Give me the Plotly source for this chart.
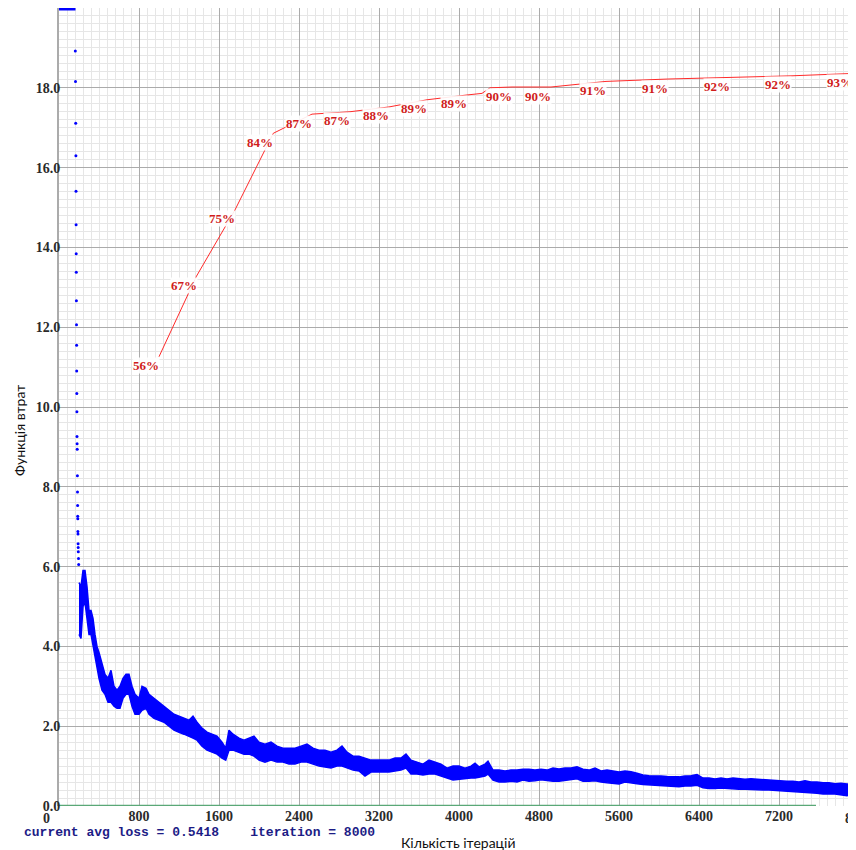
import plotly.graph_objects as go

# ---------------- data ----------------
# loss values above the chart ceiling (drawn clipped at the top)
clipped_iters = [0, 165]
clipped_loss = [20.0, 20.0]

# single early points (steep drop)
early_iters = [163, 165, 167, 169, 170, 171, 172, 173, 174, 175, 176, 177, 178, 179, 180,
               181, 182, 184, 185, 186, 187, 188, 189, 190, 191, 192, 193, 195, 197]
early_loss = [18.92, 18.16, 17.11, 16.30, 15.41, 14.57, 13.84, 13.38, 12.66, 12.06, 11.55,
              10.90, 10.34, 9.88, 9.26, 9.08, 8.94, 8.28, 7.87, 7.53, 7.26, 7.20, 6.88, 6.82,
              6.57, 6.48, 6.37, 6.2, 6.05]

# dense loss band (upper / lower envelope)
band_iters = [200, 220, 240, 260, 280, 300, 320, 340, 360, 380, 400, 430, 460, 490, 520, 550,
              580, 610, 640, 670, 700, 730, 760, 800, 830, 870, 900, 950, 1000, 1050, 1100,
              1150, 1200, 1250, 1300, 1340, 1380, 1430, 1480, 1530, 1580, 1630, 1667, 1700,
              1740, 1800, 1850, 1900, 1950, 2000, 2060, 2120, 2180, 2240, 2300, 2360, 2420,
              2480, 2540, 2600, 2660, 2720, 2780, 2830, 2880, 2940, 3000, 3060, 3120, 3180,
              3240, 3300, 3360, 3420, 3470, 3520, 3580, 3640, 3700, 3760, 3820, 3880, 3940,
              4000, 4060, 4120, 4160, 4200, 4260, 4290, 4340, 4400, 4460, 4520, 4580, 4640,
              4700, 4760, 4820, 4880, 4940, 5000, 5060, 5120, 5180, 5240, 5300, 5360, 5420,
              5480, 5540, 5600, 5660, 5720, 5780, 5840, 5900, 5960, 6020, 6080, 6140, 6200,
              6260, 6320, 6380, 6440, 6500, 6560, 6620, 6680, 6740, 6800, 6860, 6920, 6980,
              7040, 7100, 7160, 7220, 7280, 7340, 7400, 7460, 7520, 7580, 7640, 7700, 7760,
              7820, 7880, 7940, 8000]
band_upper = [5.6, 5.5, 5.9, 5.9, 5.5, 4.9, 4.9, 4.7, 4.3, 4.0, 3.85, 3.6, 3.3, 3.2, 3.4, 3.0,
              2.9, 3.0, 3.2, 3.3, 3.3, 3.0, 2.8, 2.7, 3.0, 2.95, 2.8, 2.7, 2.6, 2.5, 2.4,
              2.3, 2.25, 2.2, 2.15, 2.25, 2.1, 1.95, 1.85, 1.8, 1.75, 1.6, 1.45, 1.9,
              1.8, 1.7, 1.65, 1.7, 1.75, 1.6, 1.55, 1.6, 1.5, 1.45, 1.45, 1.45, 1.5,
              1.55, 1.45, 1.4, 1.4, 1.35, 1.4, 1.5, 1.35, 1.25, 1.25, 1.2, 1.15, 1.15,
              1.15, 1.15, 1.2, 1.2, 1.3, 1.15, 1.1, 1.05, 1.15, 1.1, 1.05, 0.95, 1.0,
              1.0, 0.95, 1.0, 1.07, 0.98, 1.05, 1.12, 0.9, 0.9, 0.88, 0.9, 0.9, 0.92,
              0.92, 0.9, 0.92, 0.9, 0.95, 0.93, 0.95, 0.95, 0.98, 0.92, 0.9, 0.95, 0.88,
              0.9, 0.88, 0.85, 0.88, 0.86, 0.82, 0.78, 0.76, 0.76, 0.75, 0.74, 0.74, 0.73,
              0.75, 0.76, 0.79, 0.7, 0.7, 0.68, 0.7, 0.68, 0.7, 0.68, 0.67, 0.68, 0.67,
              0.66, 0.64, 0.63, 0.62, 0.62, 0.62, 0.6, 0.63, 0.6, 0.6, 0.58, 0.58, 0.56,
              0.57, 0.55, 0.55, 0.54]
band_lower = [4.3, 4.2, 5.0, 5.1, 4.7, 4.3, 4.3, 4.1, 3.8, 3.5, 3.2, 2.9, 2.8, 2.6, 2.6, 2.5,
              2.45, 2.45, 2.7, 2.8, 2.8, 2.5, 2.3, 2.3, 2.4, 2.45, 2.3, 2.2, 2.15, 2.1, 2.0,
              1.9, 1.85, 1.8, 1.75, 1.7, 1.65, 1.5, 1.4, 1.35, 1.3, 1.2, 1.15, 1.4,
              1.4, 1.35, 1.3, 1.3, 1.25, 1.15, 1.1, 1.15, 1.1, 1.1, 1.05, 1.05, 1.1,
              1.1, 1.05, 1.0, 0.98, 0.95, 1.0, 1.0, 0.95, 0.9, 0.88, 0.75, 0.85, 0.85,
              0.85, 0.85, 0.88, 0.9, 0.95, 0.8, 0.8, 0.78, 0.8, 0.8, 0.75, 0.7, 0.65,
              0.66, 0.68, 0.7, 0.7, 0.72, 0.75, 0.8, 0.65, 0.6, 0.6, 0.62, 0.6, 0.65,
              0.62, 0.63, 0.66, 0.64, 0.62, 0.62, 0.64, 0.66, 0.68, 0.62, 0.62, 0.63, 0.6,
              0.58, 0.56, 0.55, 0.6, 0.58, 0.56, 0.54, 0.52, 0.52, 0.5, 0.5, 0.49, 0.48,
              0.5, 0.5, 0.52, 0.46, 0.44, 0.44, 0.45, 0.44, 0.43, 0.42, 0.42, 0.42, 0.41,
              0.4, 0.4, 0.39, 0.38, 0.37, 0.36, 0.36, 0.35, 0.33, 0.32, 0.3, 0.3, 0.3,
              0.28, 0.26, 0.27, 0.26]
assert len(band_iters) == len(band_upper) == len(band_lower)

# accuracy (mAP) curve, percent
map_iters = [1000, 1375, 1760, 2143, 2530, 2910, 3300, 3680, 4080, 4230, 4310, 4530, 4920,
             5220, 5400, 5470, 6090, 6710, 7320, 7940, 8000]
map_acc = [56.3, 66.4, 74.7, 84.3, 86.7, 87.0, 87.6, 88.5, 89.1, 89.3, 90.0, 90.1, 90.1,
           90.5, 90.7, 90.8, 91.1, 91.3, 91.5, 91.8, 91.85]
map_labels = ["56%", "67%", "75%", "84%", "87%", "87%", "88%", "89%", "89%", "", "", "90%",
              "90%", "", "", "91%", "91%", "92%", "92%", "93%", ""]

# green baseline segment
base_iters = [0, 7570]
base_vals = [0.0, 0.0]

x_ticks = [800, 1600, 2400, 3200, 4000, 4800, 5600, 6400, 7200]
x_last_tick = 8000
y_ticks = [0, 2, 4, 6, 8, 10, 12, 14, 16, 18]
x_max_visible = 7970
y_max = 20
acc_max = 100

avg_loss = 0.5418
iteration = 8000

# ---------------- figure ----------------
BLUE = "#0000ff"
RED = "#ff2a2a"
LABEL_RED = "#d01c1c"
MAJOR = "#ababab"
MINOR = "#e6e6e6"
serif_bold = dict(family="Liberation Serif", size=14, color="#2a2a2a", weight="bold")

fig = go.Figure()

fig.add_trace(go.Scatter(
    x=band_iters + band_iters[::-1], y=band_upper + band_lower[::-1],
    fill="toself", fillcolor=BLUE, mode="lines",
    line=dict(color=BLUE, width=1.5), hoverinfo="skip", showlegend=False))

fig.add_trace(go.Scatter(
    x=early_iters, y=early_loss, mode="markers",
    marker=dict(color=BLUE, size=3), showlegend=False))

fig.add_trace(go.Scatter(
    x=clipped_iters, y=clipped_loss, mode="lines",
    line=dict(color=BLUE, width=5), showlegend=False))

fig.add_trace(go.Scatter(
    x=base_iters, y=base_vals, mode="lines",
    line=dict(color="#5aa877", width=2.5), showlegend=False))

fig.add_trace(go.Scatter(
    x=map_iters, y=map_acc, mode="lines", yaxis="y2",
    line=dict(color=RED, width=1), showlegend=False))

for it, acc, lab in zip(map_iters, map_acc, map_labels):
    if not lab:
        continue
    fig.add_annotation(
        x=it, y=acc, xref="x", yref="y2", text=lab, showarrow=False,
        xanchor="center", yanchor="middle", xshift=-13, yshift=-9,
        font=dict(family="Liberation Serif", size=13, color=LABEL_RED, weight="bold"),
        bgcolor="rgba(255,255,255,0.9)", borderpad=0)

# "0" and "8000" tick labels placed like in the source chart
fig.add_annotation(x=0, y=0, xref="x", yref="paper", text="0", showarrow=False,
                   xanchor="center", yanchor="top", xshift=-13, yshift=-3, font=serif_bold)
fig.add_annotation(x=x_last_tick / x_max_visible, y=0, xref="paper", yref="paper",
                   text=str(x_last_tick), showarrow=False,
                   xanchor="center", yanchor="top", yshift=-3, font=serif_bold)

fig.add_annotation(
    x=0, y=0, xref="paper", yref="paper", xanchor="left", yanchor="middle",
    xshift=-37, yshift=-26, showarrow=False,
    text=f"current\u00a0avg\u00a0loss\u00a0=\u00a0{avg_loss:.4f}\u00a0\u00a0\u00a0\u00a0iteration\u00a0=\u00a0{iteration}",
    font=dict(family="Liberation Mono", size=13, color="#1c1c86", weight="bold"))

fig.add_annotation(
    x=0.5, y=0, xref="paper", yref="paper", xanchor="center", yanchor="middle",
    yshift=-36, showarrow=False, text="Кількість ітерацій",
    font=dict(family="Lato", size=14, color="#111111"))

fig.add_annotation(
    x=0, y=0.47, xref="paper", yref="paper", xanchor="center", yanchor="middle",
    xshift=-39, showarrow=False, textangle=-90, text="Функція втрат",
    font=dict(family="Lato", size=14, color="#111111"))

# the page body adds an 8px offset, so the figure is sized to fill the rest
fig.update_layout(
    width=848, height=842,
    margin=dict(l=51, r=0, t=0, b=44),
    paper_bgcolor="white", plot_bgcolor="white",
    showlegend=False,
    xaxis=dict(
        range=[0, x_max_visible], tickmode="array", tickvals=x_ticks,
        ticktext=[str(v) for v in x_ticks], showgrid=True, gridcolor=MAJOR, gridwidth=1,
        zeroline=False, showline=False, ticks="", tickfont=serif_bold,
        minor=dict(dtick=80, tick0=0, showgrid=True, gridcolor=MINOR, gridwidth=1),
    ),
    yaxis=dict(
        range=[0, y_max], tickmode="array", tickvals=y_ticks,
        ticktext=[f"{v:.1f}" for v in y_ticks], showgrid=True, gridcolor=MAJOR, gridwidth=1,
        zeroline=False, showline=True, linecolor=MAJOR, linewidth=2, ticks="",
        tickfont=serif_bold, ticklabelstandoff=-6,
        minor=dict(dtick=0.2, tick0=0, showgrid=True, gridcolor=MINOR, gridwidth=1),
    ),
    yaxis2=dict(range=[0, acc_max], overlaying="y", visible=False),
)

fig.write_html("out.html")
